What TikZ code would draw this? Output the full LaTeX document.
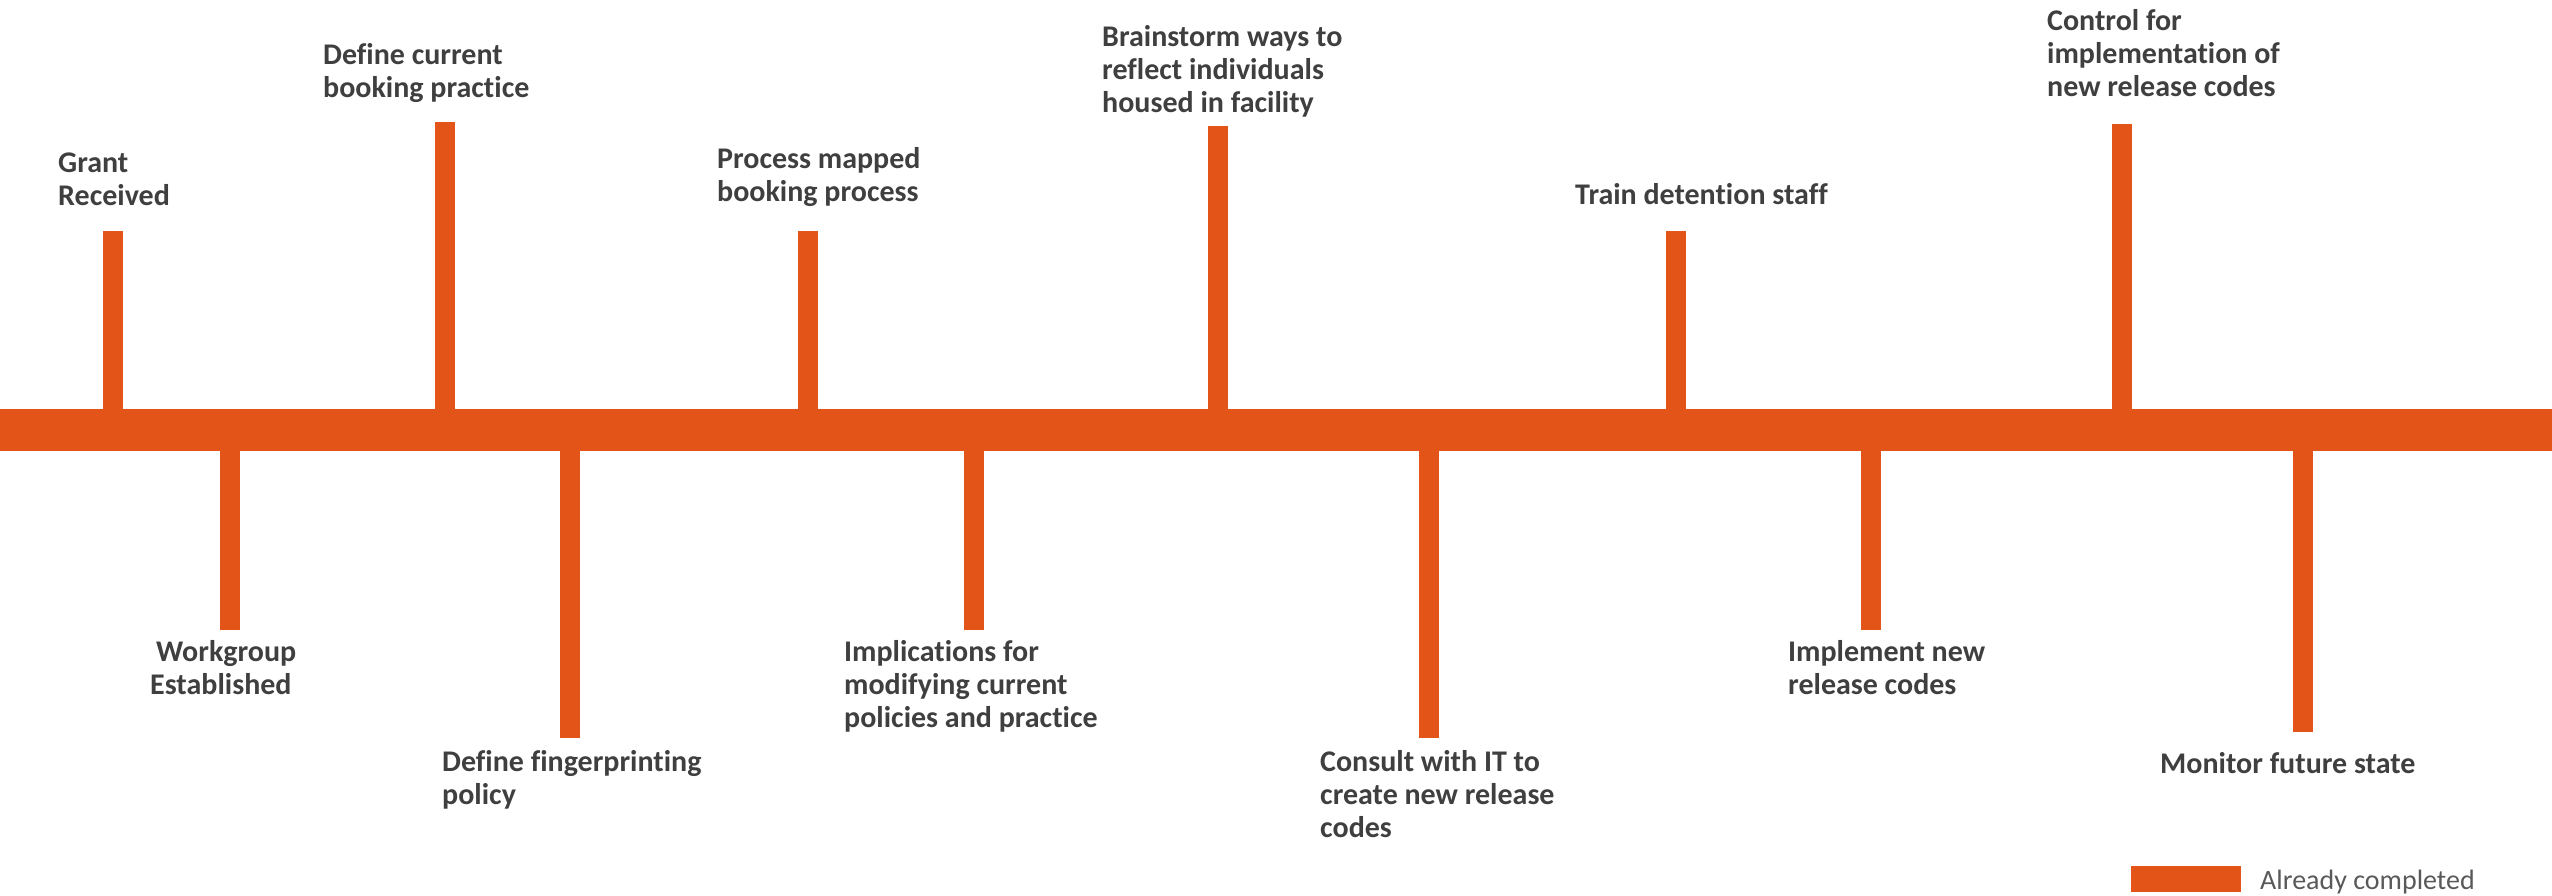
\documentclass[tikz,border=0pt]{standalone}
\usepackage{fontspec}
\setmainfont{Carlito}[Ligatures=NoCommon]
\definecolor{barorange}{HTML}{E25417}
\definecolor{labelgray}{HTML}{3F3F3F}
\definecolor{keygray}{HTML}{595959}
\tikzset{
  bar/.style={fill=barorange, inner sep=0pt, minimum width=2552pt, minimum height=42pt},
  stem/.style={draw=barorange, line width=20pt},
  lbl/.style={anchor=north west, inner sep=0pt, align=left, text=labelgray,
    font=\fontsize{30}{33}\selectfont\bfseries, execute at begin node=\strut},
}
\begin{document}
\begin{tikzpicture}[x=1pt, y=-1pt]
        \useasboundingbox (0,0) rectangle (2552,895);
        \node[bar] (line) at (1276,430) {};
        % tips of the stems
        \coordinate (grant tip) at (112.5,231);
        \coordinate (work tip) at (230,630);
        \coordinate (define tip) at (444.5,122);
        \coordinate (finger tip) at (570,738);
        \coordinate (process tip) at (807.5,231);
        \coordinate (implic tip) at (973.5,630);
        \coordinate (brain tip) at (1218,126);
        \coordinate (consult tip) at (1429,738);
        \coordinate (train tip) at (1675.5,231);
        \coordinate (implem tip) at (1871,630);
        \coordinate (control tip) at (2121.5,124);
        \coordinate (monitor tip) at (2303,732);
        \foreach \t in {grant,work,define,finger,process,implic,brain,consult,train,implem,control,monitor}
          \draw[stem] (\t\space tip) -- (\t\space tip |- line.center);
        % labels above the line
        \node[lbl] (grant) at (58,153) {Grant\\Received};
        \node[lbl] (define) at (323,43) {Define current\\booking practice};
        \node[lbl] (process) at (717,147) {Process mapped\\booking process};
        \node[lbl] (brain) at (1102,25) {Brainstorm ways to\\reflect individuals\\housed in facility};
        \node[lbl] (train) at (1575,181) {Train detention staff};
        \node[lbl] (control) at (2047,9) {Control for\\implementation of\\new release codes};
        % labels below the line
        \node[lbl] (work) at (150,640) {\hspace*{6pt}Workgroup\\Established};
        \node[lbl] (finger) at (442,750) {Define fingerprinting\\policy};
        \node[lbl] (implic) at (844,640) {Implications for\\modifying current\\policies and practice};
        \node[lbl] (consult) at (1320,750) {Consult with IT to\\create new release\\codes};
        \node[lbl] (implem) at (1788,640) {Implement new\\release codes};
        \node[lbl] (monitor) at (2160,750) {Monitor future state};
        % key
        \node[fill=barorange, inner sep=0pt, minimum width=110pt, minimum height=26pt, anchor=north west] (keybox) at (2131,866) {};
        \node[anchor=base west, inner sep=0pt, text=keygray, font=\fontsize{28}{30}\selectfont] (keytext) at (2260,889) {Already completed};
    \end{tikzpicture}
\end{document}
